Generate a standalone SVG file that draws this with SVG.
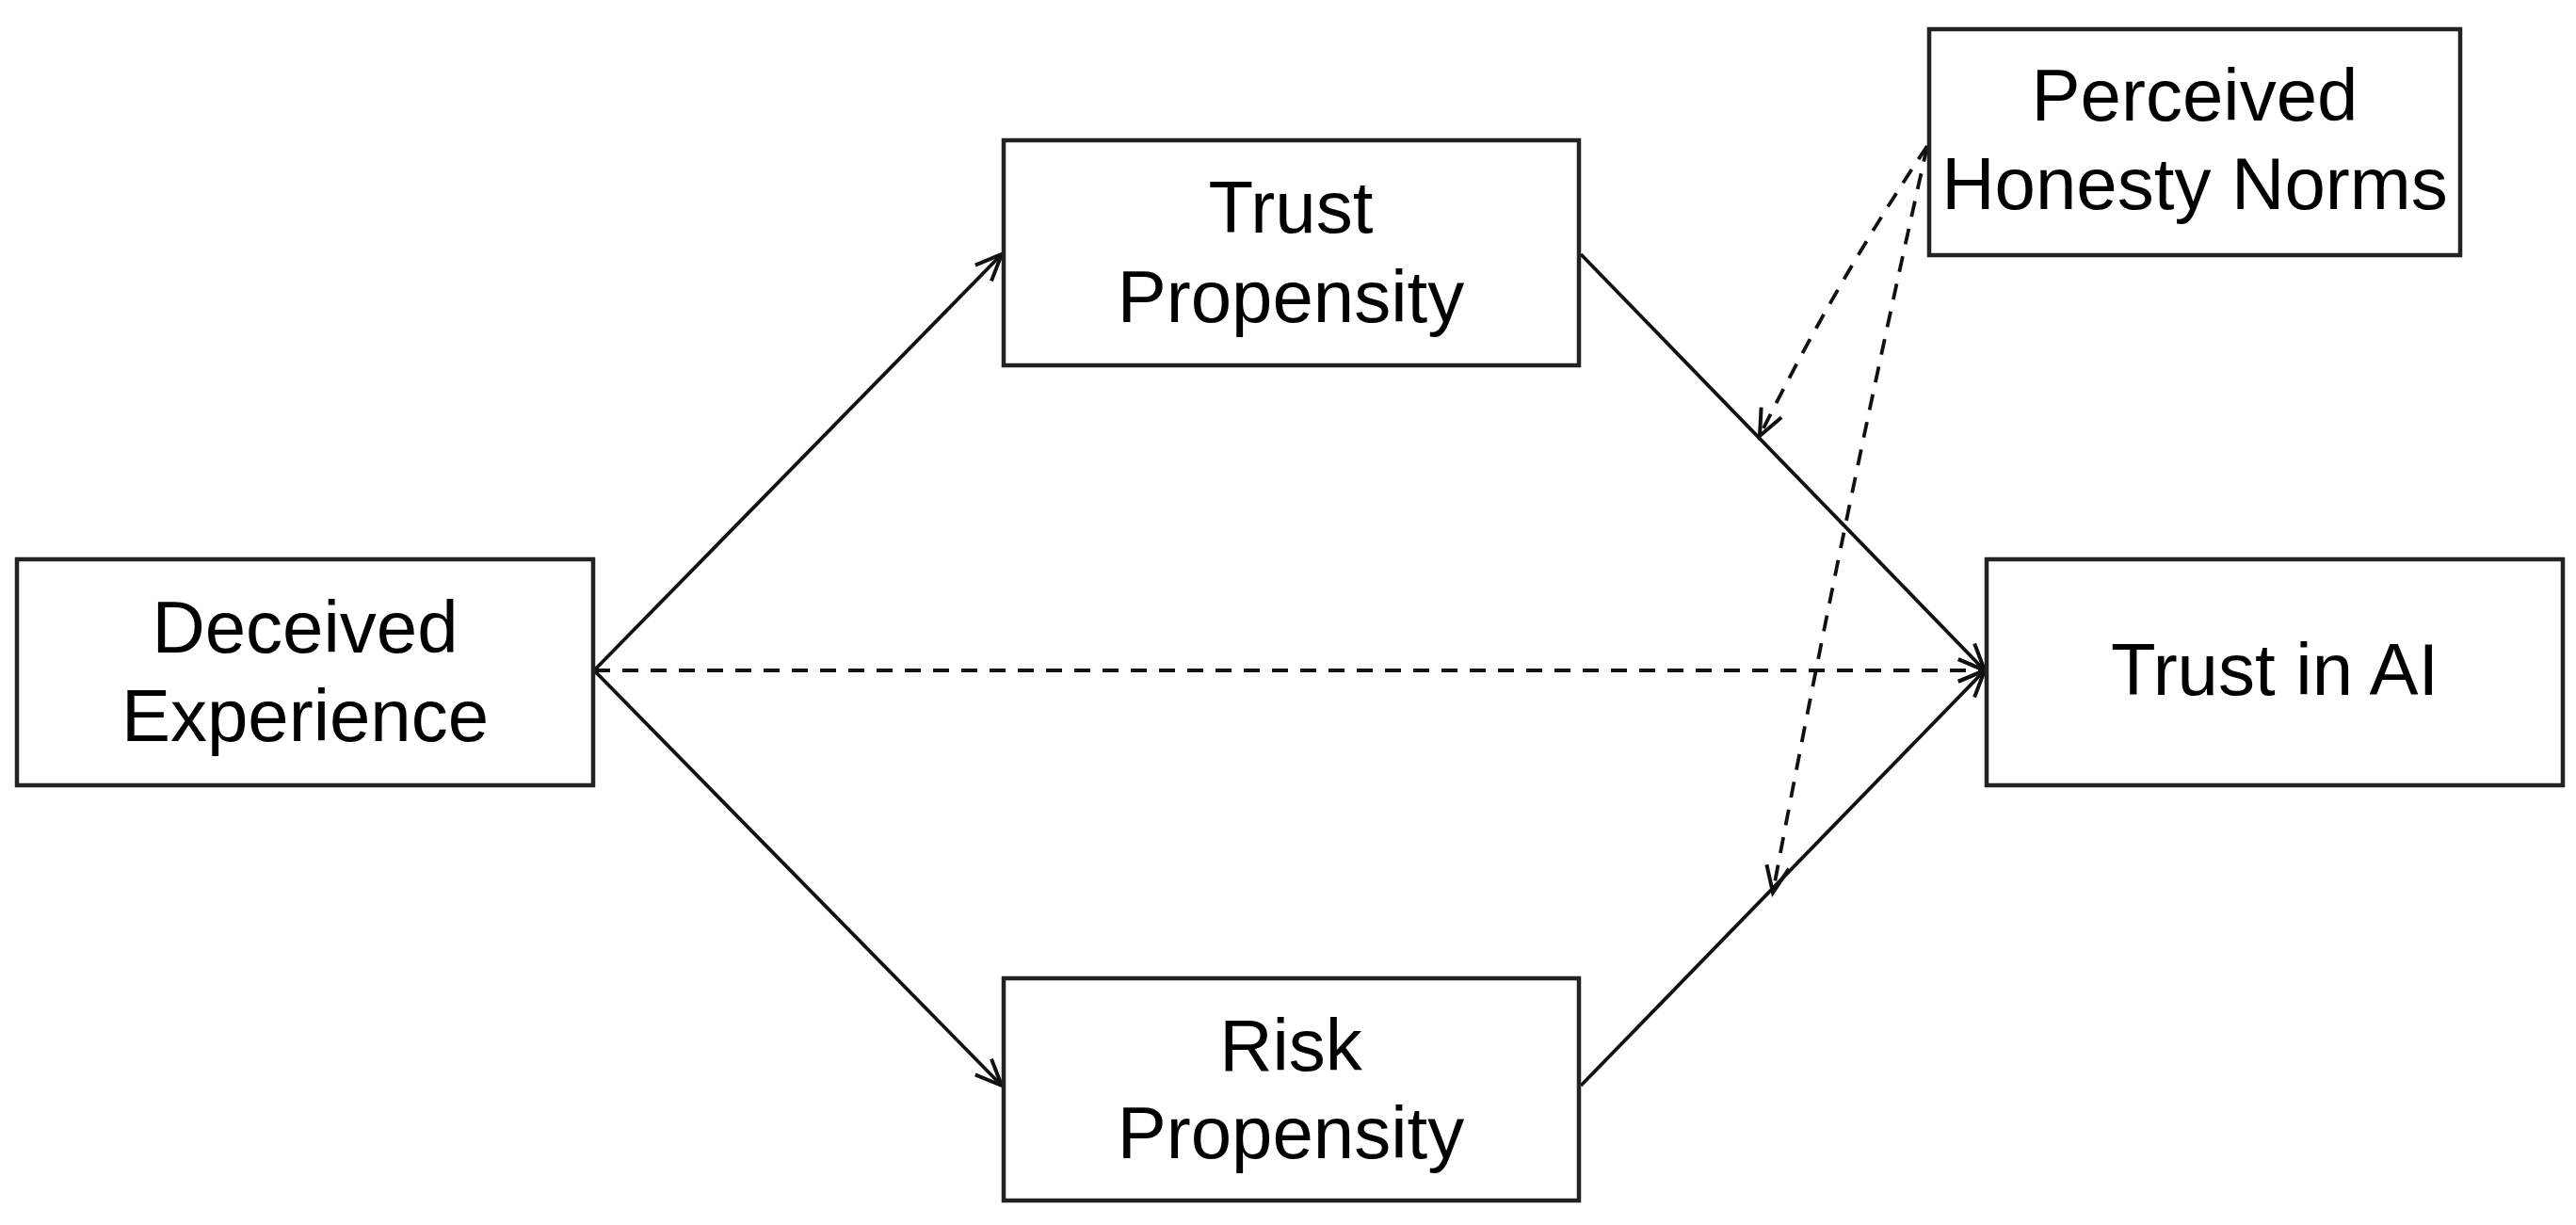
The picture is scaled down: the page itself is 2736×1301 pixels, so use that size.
<svg xmlns="http://www.w3.org/2000/svg" width="2736" height="1301" viewBox="0 0 2736 1301">
<defs>
<style>
.box{fill:#fff;stroke:#222;stroke-width:4.5}
.lbl{font-family:"Liberation Sans",Arial,sans-serif;font-size:78px;fill:#000;text-anchor:middle}
.ln{fill:none;stroke:#111;stroke-width:3.8}
.dash{stroke-dasharray:17 13}
</style>
<marker id="arr" markerUnits="userSpaceOnUse" markerWidth="40" markerHeight="40" viewBox="-34 -20 40 40" refX="0" refY="0" orient="auto">
<path d="M -28 -12 L 0 0 L -28 12" fill="none" stroke="#111" stroke-width="4" stroke-linejoin="miter"/>
</marker>
</defs>
<rect width="2736" height="1301" fill="#fff"/>
<g id="connectors">
<line class="ln" x1="631" y1="712" x2="1064" y2="270" marker-end="url(#arr)"/>
<line class="ln" x1="631" y1="712" x2="1064" y2="1153" marker-end="url(#arr)"/>
<line class="ln dash" x1="631" y1="712" x2="2108" y2="712" marker-end="url(#arr)"/>
<line class="ln" x1="1679" y1="270" x2="2108" y2="712" marker-end="url(#arr)"/>
<line class="ln" x1="1679" y1="1153" x2="2108" y2="712" marker-end="url(#arr)"/>
<path class="ln dash" d="M 2047 155 Q 1948 303 1869 463" marker-end="url(#arr)"/>
<path class="ln dash" d="M 2047 155 Q 1958 550 1883 948" marker-end="url(#arr)"/>
</g>
<g id="deceived-experience">
<rect class="box" x="18" y="594" width="612" height="240"/>
<text class="lbl" x="324" y="693">Deceived</text>
<text class="lbl" x="324" y="787">Experience</text>
</g>
<g id="trust-propensity">
<rect class="box" x="1066" y="149" width="611" height="239"/>
<text class="lbl" x="1371" y="247">Trust</text>
<text class="lbl" x="1371" y="342">Propensity</text>
</g>
<g id="risk-propensity">
<rect class="box" x="1066" y="1039" width="611" height="236"/>
<text class="lbl" x="1371" y="1137">Risk</text>
<text class="lbl" x="1371" y="1230">Propensity</text>
</g>
<g id="trust-in-ai">
<rect class="box" x="2110" y="594" width="612" height="240"/>
<text class="lbl" x="2416" y="738">Trust in AI</text>
</g>
<g id="perceived-honesty-norms">
<rect class="box" x="2049" y="31" width="564" height="240"/>
<text class="lbl" x="2331" y="128">Perceived</text>
<text class="lbl" x="2331" y="222">Honesty Norms</text>
</g>
</svg>
